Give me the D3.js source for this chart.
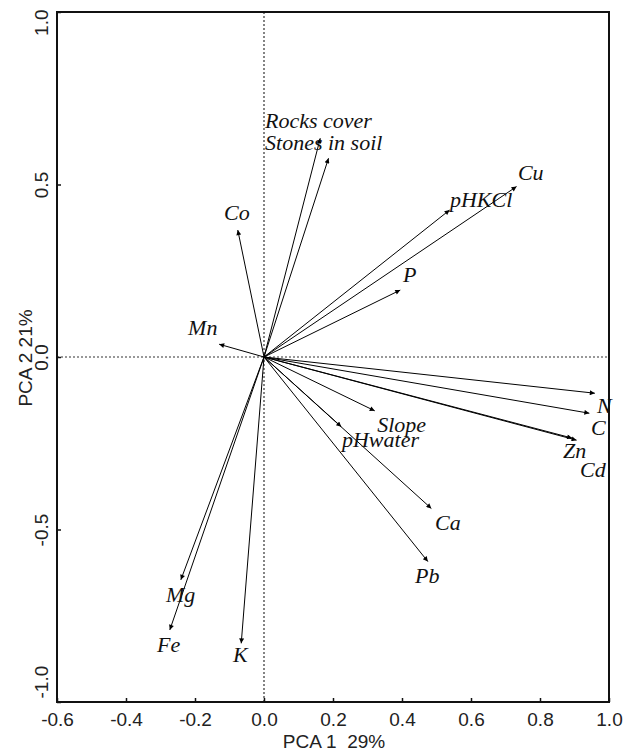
<!DOCTYPE html>
<html>
<head>
<meta charset="utf-8">
<script src="https://cdn.jsdelivr.net/npm/d3@7"></script>
<style>
  body { margin: 0; background: #fff; }
  .tick text { font-family: "Liberation Sans", Arial, sans-serif; font-size: 19px; fill: #222; }
  .lbl { font-family: "Liberation Serif", "Times New Roman", serif; font-style: italic; font-size: 22px; fill: #111; }
  .title { font-family: "Liberation Sans", Arial, sans-serif; font-size: 19px; fill: #222; white-space: pre; }
</style>
</head>
<body>
<svg width="624" height="751"></svg>
<script>
// variables (arrow names) and loadings on PCA 1 / PCA 2
let names  = ["Rocks cover","Stones in soil","Co","pHKCl","Cu","P","Mn","Slope","pHwater","Ca","Pb","Mg","Fe","K","N","C","Zn","Cd"];
let pca1   = [0.163, 0.187, -0.076, 0.538, 0.732, 0.395, -0.130, 0.321, 0.224, 0.485, 0.475, -0.241, -0.273, -0.066, 0.959, 0.943, 0.906, 0.893];
let pca2   = [0.634, 0.576, 0.368, 0.426, 0.494, 0.194, 0.037, -0.156, -0.202, -0.439, -0.593, -0.646, -0.791, -0.830, -0.105, -0.163, -0.241, -0.235];
// where each name is written (left end of text baseline, in PCA units)
let labX   = [0.003, 0.003, -0.116, 0.539, 0.736, 0.403, -0.220, 0.328, 0.226, 0.496, 0.438, -0.284, -0.310, -0.090, 0.965, 0.948, 0.867, 0.916];
let labY   = [0.664, 0.600, 0.397, 0.435, 0.513, 0.217, 0.064, -0.217, -0.261, -0.501, -0.655, -0.710, -0.855, -0.884, -0.162, -0.226, -0.293, -0.348];

let xTicks = [-0.6, -0.4, -0.2, 0.0, 0.2, 0.4, 0.6, 0.8, 1.0];
let yTicks = [-1.0, -0.5, 0.0, 0.5, 1.0];
let xTitle = "PCA 1  29%";
let yTitle = "PCA 2 21%";

let svg = d3.select("svg");
let mLeft = 57, mRight = 609, mTop = 12, mBottom = 702;

let xScale = d3.scaleLinear().domain([-0.6, 1.0]).range([mLeft, mRight]);
let yScale = d3.scaleLinear().domain([-1.0, 1.0]).range([mBottom, mTop]);
let fmt = d => d3.format(".1f")(d).replace("\u2212", "-");

// arrow head marker
svg.append("defs").append("marker")
    .attr("id", "head")
    .attr("viewBox", "0 0 10 10")
    .attr("refX", 10).attr("refY", 5)
    .attr("markerWidth", 8).attr("markerHeight", 5)
    .attr("markerUnits", "userSpaceOnUse")
    .attr("orient", "auto")
  .append("path")
    .attr("d", "M0,0 L10,5 L0,10 Z")
    .attr("fill", "#000");

// zero lines (dotted)
svg.append("line")
    .attr("x1", xScale(0)).attr("x2", xScale(0))
    .attr("y1", mTop).attr("y2", mBottom)
    .attr("stroke", "#333").attr("stroke-width", 1.2).attr("stroke-dasharray", "2,2");
svg.append("line")
    .attr("x1", mLeft).attr("x2", mRight)
    .attr("y1", yScale(0)).attr("y2", yScale(0))
    .attr("stroke", "#333").attr("stroke-width", 1.2).attr("stroke-dasharray", "2,2");

// axes
let xAxis = d3.axisBottom(xScale).tickValues(xTicks).tickSizeInner(-4).tickSizeOuter(0)
    .tickFormat(fmt).tickPadding(11);
let yAxis = d3.axisLeft(yScale).tickValues(yTicks).tickSizeInner(-4).tickSizeOuter(0)
    .tickFormat(fmt);

let gx = svg.append("g").attr("transform", "translate(0," + mBottom + ")").call(xAxis);
let gy = svg.append("g").attr("transform", "translate(" + mLeft + ",0)").call(yAxis);
[gx, gy].forEach(g => {
    g.select(".domain").remove();
    g.selectAll(".tick line").attr("stroke", "#111").attr("stroke-width", 1.5);
});
// y labels are turned, the two end ones are kept inside the frame
gy.selectAll(".tick text")
    .attr("transform", "rotate(-90)")
    .attr("y", -9).attr("dy", 0)
    .attr("x", d => d === 1 ? 3 : (d === -1 ? 4 : 0))
    .attr("text-anchor", d => d === 1 ? "end" : (d === -1 ? "start" : "middle"));

// frame
svg.append("rect")
    .attr("x", mLeft).attr("y", mTop)
    .attr("width", mRight - mLeft).attr("height", mBottom - mTop)
    .attr("fill", "none").attr("stroke", "#111").attr("stroke-width", 2);

// arrows
let vars = names.map((n, i) => ({name: n, x: pca1[i], y: pca2[i], lx: labX[i], ly: labY[i]}));
svg.append("g").selectAll("line")
    .data(vars).enter().append("line")
    .attr("x1", xScale(0)).attr("y1", yScale(0))
    .attr("x2", d => xScale(d.x)).attr("y2", d => yScale(d.y))
    .attr("stroke", "#000").attr("stroke-width", 1)
    .attr("marker-end", "url(#head)");

svg.append("g").selectAll("text")
    .data(vars).enter().append("text")
    .attr("class", "lbl")
    .attr("x", d => xScale(d.lx)).attr("y", d => yScale(d.ly))
    .text(d => d.name);

// axis titles
svg.append("text").attr("class", "title")
    .attr("x", 334).attr("y", 748).attr("text-anchor", "middle")
    .text(xTitle);
svg.append("text").attr("class", "title")
    .attr("transform", "translate(32,358) rotate(-90)")
    .attr("text-anchor", "middle")
    .text(yTitle);
</script>
</body>
</html>
